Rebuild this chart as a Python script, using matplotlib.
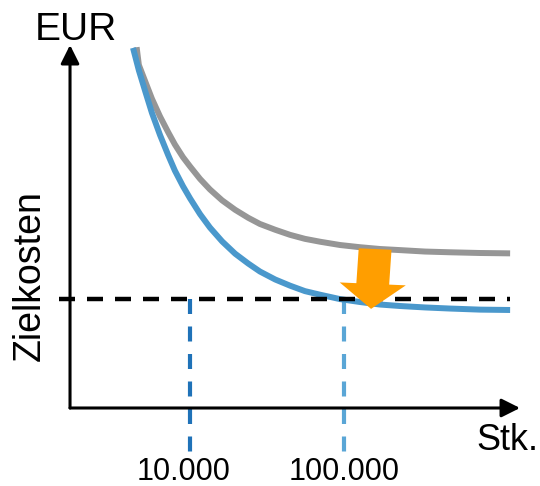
import matplotlib.pyplot as plt
from matplotlib.patches import FancyArrowPatch

plt.rcParams['font.family'] = ['Liberation Sans', 'DejaVu Sans']

# schematic cost curves (quantity axis 0..10, cost axis 0..10)
qty = [1.40, 1.53, 1.67, 1.82, 2.00, 2.18, 2.33, 2.51, 2.67, 2.89, 3.11, 3.38, 3.67, 3.96,
       4.22, 4.56, 4.89, 5.22, 5.56, 6.00, 6.44, 6.89, 7.33, 7.89, 8.44, 9.11, 9.78]
cost_current = [9.94, 9.45, 9.00, 8.52, 8.03, 7.60, 7.26, 6.91, 6.65, 6.31, 6.02, 5.72, 5.46, 5.24,
                5.07, 4.91, 4.77, 4.66, 4.58, 4.49, 4.43, 4.38, 4.35, 4.31, 4.29, 4.27, 4.26]
cost_target = [9.92, 9.30, 8.73, 8.13, 7.52, 6.97, 6.54, 6.11, 5.77, 5.34, 4.97, 4.59, 4.25, 3.98,
               3.76, 3.54, 3.37, 3.22, 3.12, 3.00, 2.92, 2.85, 2.81, 2.77, 2.74, 2.71, 2.70]

target_cost = 3.0
volumes = [2.67, 6.09]
volume_labels = ['10.000', '100.000']
volume_colors = ['#1f72b8', '#5aa6d6']

# cost reduction arrow: from the current curve down to the target curve
reduction_start = (6.78, 4.38)
reduction_end = (6.69, 2.73)

fig = plt.figure(figsize=(5.4, 4.86), dpi=100)
ax = fig.add_axes([0, 0, 1, 1])
ax.set_xlim(-1.556, 10.444)
ax.set_ylim(-2.149, 11.24)
ax.axis('off')

# axes with arrow heads
for tip in [(0, 10), (10, 0)]:
    ax.add_patch(FancyArrowPatch((0, 0), tip, arrowstyle='-|>,head_length=0.4,head_width=0.2',
                                 mutation_scale=28, lw=2.2, color='black',
                                 shrinkA=0, shrinkB=0, zorder=3))

ax.plot([qty[0] + 0.08] + qty[1:], cost_current, color='#969696', lw=4.3,
        solid_capstyle='butt', solid_joinstyle='round', zorder=2)
ax.plot(qty, cost_target, color='#4a98cc', lw=4.3,
        solid_capstyle='butt', solid_joinstyle='round', zorder=2)

# target cost line
ax.plot([-0.24, qty[-1]], [target_cost, target_cost], color='black', lw=3.2,
        dashes=(3.6, 2.7), zorder=2)

for v, lab, c, dx in zip(volumes, volume_labels, volume_colors, [-5, 0]):
    ax.plot([v, v], [target_cost, -1.3], color=c, lw=3, dashes=(3.6, 3.0), zorder=1)
    ax.annotate(lab, (v, -1.98), xytext=(dx, 0), textcoords='offset points',
                ha='center', va='baseline', fontsize=22)

ax.arrow(reduction_start[0], reduction_start[1],
         reduction_end[0] - reduction_start[0], reduction_end[1] - reduction_start[1],
         width=0.73, head_width=1.47, head_length=0.69, length_includes_head=True,
         color='#ff9e00', lw=0, zorder=4)

ax.text(0.14, 10.14, 'EUR', ha='center', va='baseline', fontsize=28)
ax.text(9.02, -1.16, 'Stk.', ha='left', va='baseline', fontsize=26)
ax.text(-0.89, 3.66, 'Zielkosten', rotation=90, ha='center', va='center', fontsize=27)

fig.savefig('out.png', dpi=100)
